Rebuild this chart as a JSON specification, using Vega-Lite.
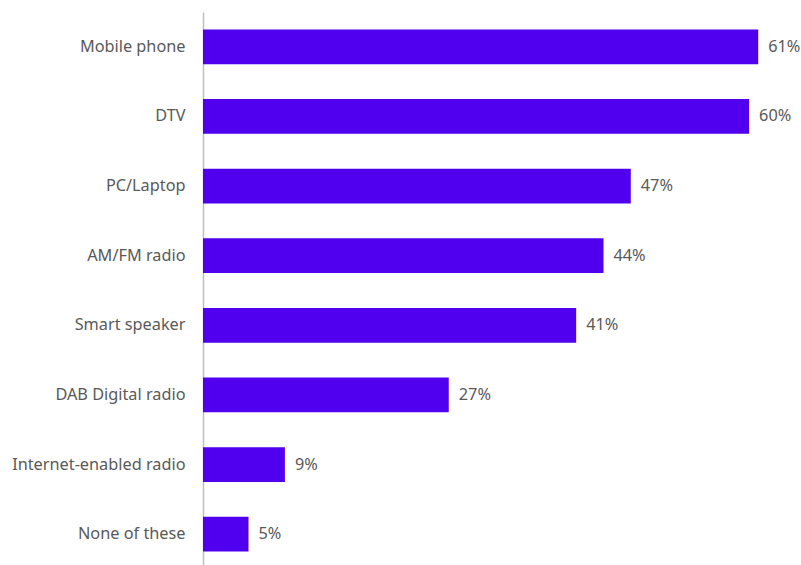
{
  "$schema": "https://vega.github.io/schema/vega-lite/v6.json",
  "width": 598,
  "height": 557,
  "autosize": {"type": "none"},
  "padding": {"left": 203, "top": 12, "right": 0, "bottom": 0},
  "background": "white",
  "config": {"view": {"stroke": null}},
  "data": {
    "values": [
      {"device": "Mobile phone", "pct": 0.61},
      {"device": "DTV", "pct": 0.60},
      {"device": "PC/Laptop", "pct": 0.47},
      {"device": "AM/FM radio", "pct": 0.44},
      {"device": "Smart speaker", "pct": 0.41},
      {"device": "DAB Digital radio", "pct": 0.27},
      {"device": "Internet-enabled radio", "pct": 0.09},
      {"device": "None of these", "pct": 0.05}
    ]
  },
  "encoding": {
    "y": {
      "field": "device",
      "type": "nominal",
      "sort": null,
      "scale": {"paddingInner": 0.5, "paddingOuter": 0.25},
      "axis": {
        "title": null,
        "ticks": false,
        "labelPadding": 18,
        "labelFont": "Noto Sans",
        "labelFontSize": 16.3,
        "labelColor": "#595959",
        "domainColor": "#bfbfbf",
        "domainWidth": 1.5
      }
    },
    "x": {
      "field": "pct",
      "type": "quantitative",
      "scale": {"domain": [0, 0.657], "nice": false},
      "axis": null
    }
  },
  "layer": [
    {"mark": {"type": "bar", "color": "#5000EE"}},
    {
      "mark": {"type": "text", "align": "left", "dx": 10, "font": "Noto Sans", "fontSize": 16.3, "color": "#595959"},
      "encoding": {"text": {"field": "pct", "type": "quantitative", "format": ".0%"}}
    }
  ]
}
